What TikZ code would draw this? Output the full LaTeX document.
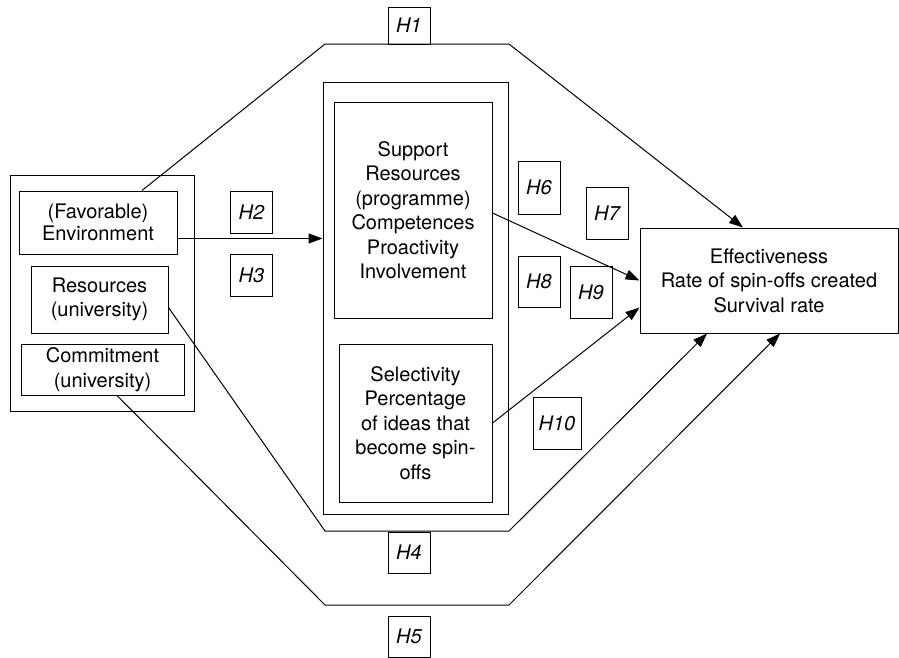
\documentclass[tikz,border=0pt]{standalone}
\usepackage{fontspec}
\setmainfont{TeX Gyre Heros}
\usetikzlibrary{arrows.meta,positioning,calc}
\begin{document}
\begin{tikzpicture}[x=1pt,y=-1pt,line width=1pt,font=\fontsize{20}{24.5}\selectfont]
  \tikzstyle{box}=[draw,align=center,inner sep=2pt]
  \tikzstyle{hyp}=[draw,font=\fontsize{20}{24.5}\selectfont\itshape,minimum width=42pt,inner sep=0pt]
  \tikzstyle{arr}=[-{Triangle[length=14pt,width=10pt]}]
  \useasboundingbox (0,0) rectangle (899,657);
  % antecedents
  \node[box,minimum width=184pt,minimum height=236pt] (grp) at (102,293) {};
  \node[box,minimum width=158pt,minimum height=63pt] (env) at (98,222.5) {(Favorable)\\[-3pt]Environment};
  \node[box,minimum width=137pt,minimum height=67pt] (res) at (99.5,299.5) {Resources\\(university)};
  \node[box,minimum width=163pt,minimum height=51pt] (com) at (102.5,369.5) {Commitment\\(university)};
  % programme
  \node[box,minimum width=185pt,minimum height=432pt] (mid) at (415.5,298) {};
  \node[box,minimum width=158pt,minimum height=216pt] (sup) at (413,210)
    {Support\\Resources\\(programme)\\Competences\\Proactivity\\Involvement};
  \node[box,minimum width=153pt,minimum height=158pt] (sel) at (415.5,423)
    {Selectivity\\Percentage\\of ideas that\\become spin-\\offs};
  % outcome
  \node[box,minimum width=258pt,minimum height=105pt] (eff) at (769,280.5)
    {Effectiveness\\Rate of spin-offs created\\Survival rate};
  % hypotheses
  \node[hyp,minimum height=37pt] (h1) at (409,25.5) {H1};
  \node[hyp,minimum height=42pt] (h2) at (251.5,212) {H2};
  \node[hyp,minimum height=42pt] (h3) at (251.5,275) {H3};
  \node[hyp,minimum height=41pt] (h4) at (409,552.5) {H4};
  \node[hyp,minimum height=41pt] (h5) at (409,636.5) {H5};
  \node[hyp,minimum height=53pt] (h6) at (539,187.5) {H6};
  \node[hyp,minimum height=52pt] (h7) at (607,213) {H7};
  \node[hyp,minimum height=51pt] (h8) at (539,281.5) {H8};
  \node[hyp,minimum height=52pt] (h9) at (591,292) {H9};
  \node[hyp,minimum width=48pt,minimum height=52pt] (h10) at (557,423) {H10};
  % bend points
  \coordinate (a1) at (325,44);
  \coordinate (a2) at (509,44);
  \coordinate (b1) at (325,531);
  \coordinate (b2) at (509,531);
  \coordinate (c1) at (325,605);
  \coordinate (c2) at (509,605);
  \coordinate (e2) at ([yshift=-16pt]env.east);
  % paths
  \draw[arr] (e2) -- (e2 -| mid.west);
  \draw[arr] ([xshift=44pt]env.north) -- (a1) -- (a2) -- ([xshift=-26pt]eff.north);
  \draw[arr] ([yshift=-3pt]sup.east) -- (eff.west);
  \draw[arr] (sel.east) -- ([yshift=-27pt]eff.west);
  \draw[arr] ([yshift=-8pt]res.east) -- (b1) -- (b2) -- ([xshift=-62pt]eff.south);
  \draw[arr] ([xshift=14.5pt]com.south) -- (c1) -- (c2) -- ([xshift=11pt]eff.south);
\end{tikzpicture}
\end{document}
